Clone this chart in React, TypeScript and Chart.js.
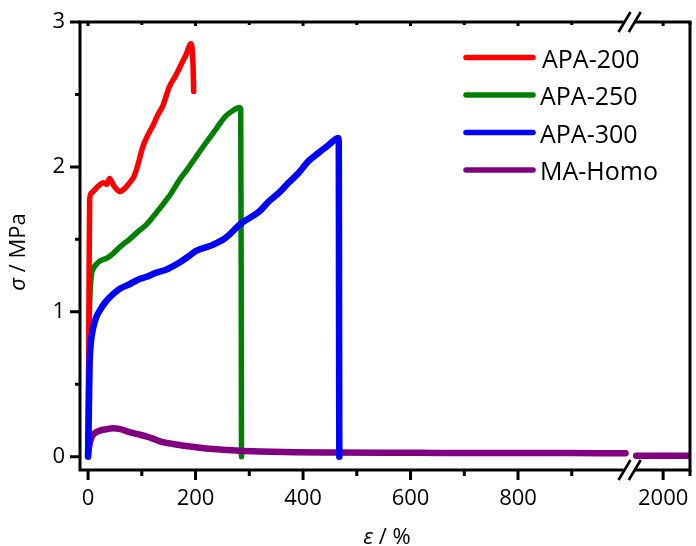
import React, { useEffect, useRef } from 'react';
import { Chart, registerables } from 'chart.js';

Chart.register(...registerables);

// ---- data (strain in %, stress in MPa) ----
const seriesLabels = ['APA-200', 'APA-250', 'APA-300', 'MA-Homo'];
const seriesColors = ['#ff0000', '#008000', '#0000ff', '#800080'];

const strainAPA200 = [0, 1, 2, 3, 6, 12, 20, 28, 35, 40, 48, 59, 68, 77, 85, 90, 96, 102, 110, 120, 130, 139, 151, 163, 175, 183, 188, 191, 194, 195.5, 196.5];
const stressAPA200 = [0, 0.6, 1.3, 1.78, 1.82, 1.84, 1.87, 1.89, 1.88, 1.92, 1.87, 1.83, 1.85, 1.89, 1.93, 1.98, 2.06, 2.14, 2.21, 2.28, 2.36, 2.42, 2.55, 2.63, 2.72, 2.78, 2.83, 2.85, 2.8, 2.68, 2.52];

const strainAPA250 = [0, 1, 2, 4, 6, 10, 16, 22, 35, 46, 60, 77, 92, 108, 124, 139, 155, 170, 186, 201, 220, 238, 256, 270, 281, 284, 285, 285.5];
const stressAPA250 = [0, 0.5, 0.9, 1.15, 1.25, 1.3, 1.33, 1.35, 1.37, 1.4, 1.45, 1.5, 1.55, 1.6, 1.67, 1.74, 1.82, 1.91, 1.99, 2.07, 2.17, 2.26, 2.35, 2.39, 2.41, 2.4, 1.2, 0];

const strainAPA300 = [0, 1, 2, 3, 5, 9, 15, 22, 33, 46, 60, 77, 92, 108, 127, 145, 170, 186, 201, 231, 256, 285, 318, 336, 355, 373, 392, 410, 430, 447, 460, 465, 466.5, 467, 467.5];
const stressAPA300 = [0, 0.2, 0.45, 0.65, 0.78, 0.88, 0.96, 1.01, 1.07, 1.12, 1.16, 1.19, 1.22, 1.24, 1.27, 1.29, 1.34, 1.38, 1.42, 1.46, 1.51, 1.61, 1.69, 1.76, 1.82, 1.89, 1.96, 2.04, 2.1, 2.15, 2.19, 2.2, 2.17, 1.0, 0];

const strainMAHomo = [0, 2, 6, 12, 22, 35, 46, 60, 77, 92, 108, 124, 139, 155, 170, 186, 201, 231, 260, 281, 320, 386, 450, 550, 650, 750, 850, 950, 1000, null, 1950, 2000, 2050];
const stressMAHomo = [0.01, 0.07, 0.13, 0.16, 0.18, 0.19, 0.196, 0.19, 0.17, 0.155, 0.14, 0.12, 0.1, 0.09, 0.08, 0.072, 0.065, 0.053, 0.046, 0.041, 0.036, 0.031, 0.029, 0.027, 0.026, 0.025, 0.025, 0.024, 0.024, null, 0.007, 0.007, 0.006];

// ---- axis ticks ----
const xMajorTicks = [0, 200, 400, 600, 800, 2000];
const xMinorTicks = [100, 300, 500, 700, 900, 2050];
const yMajorTicks = [0, 1, 2, 3];
const yMinorTicks = [0.5, 1.5, 2.5];

// broken x axis: 1000 .. 1950 is cut out
const BREAK_START = 1000;
const BREAK_END = 1950;
const BREAK_GAP = 20;
const X_MIN = -15;
const X_MAX = 2050;
const Y_MIN = -0.092;
const Y_MAX = 3;

const toAxis = (v: number) => (v <= BREAK_START ? v : v - BREAK_END + BREAK_START + BREAK_GAP);
const fromAxis = (v: number) => (v <= BREAK_START ? v : v + BREAK_END - BREAK_START - BREAK_GAP);

const FONT = '"Open Sans", "Noto Sans", sans-serif';

function makePoints(xs: (number | null)[], ys: (number | null)[]) {
  return xs.map((x, i) => ({
    x: x === null ? NaN : toAxis(x),
    y: ys[i] === null ? NaN : (ys[i] as number),
  }));
}

const framePlugin = {
  id: 'framePlugin',
  afterDraw(chart: any) {
    const { ctx, chartArea } = chart;
    const { left, right, top, bottom } = chartArea;
    const xs = chart.scales.x;
    const ys = chart.scales.y;
    ctx.save();
    ctx.strokeStyle = '#000';
    ctx.fillStyle = '#000';
    ctx.lineWidth = 3;
    ctx.lineCap = 'butt';

    const b1 = xs.getPixelForValue(BREAK_START);
    const b2 = xs.getPixelForValue(BREAK_START + BREAK_GAP);

    // frame
    ctx.beginPath();
    ctx.moveTo(left, top - 1.5);
    ctx.lineTo(left, bottom + 1.5);
    ctx.moveTo(right, top - 1.5);
    ctx.lineTo(right, bottom + 1.5);
    for (const yy of [top, bottom]) {
      ctx.moveTo(left - 1.5, yy);
      ctx.lineTo(b1 - 2, yy);
      ctx.moveTo(b2 - 1, yy);
      ctx.lineTo(right + 1.5, yy);
    }
    ctx.stroke();

    // break marks
    ctx.lineWidth = 2.6;
    ctx.beginPath();
    for (const yy of [top, bottom]) {
      for (const cx of [b1 - 1, b2 - 1.5]) {
        ctx.moveTo(cx - 6, yy + 10);
        ctx.lineTo(cx + 6, yy - 10);
      }
    }
    ctx.stroke();

    // ticks
    ctx.lineWidth = 3;
    ctx.beginPath();
    for (const v of xMajorTicks) {
      const px = xs.getPixelForValue(toAxis(v));
      ctx.moveTo(px, bottom);
      ctx.lineTo(px, bottom + 10);
      ctx.moveTo(px, top);
      ctx.lineTo(px, top + 4);
    }
    for (const v of xMinorTicks) {
      const px = xs.getPixelForValue(toAxis(v));
      ctx.moveTo(px, bottom);
      ctx.lineTo(px, bottom + 6);
      ctx.moveTo(px, top);
      ctx.lineTo(px, top + 3);
    }
    for (const v of yMajorTicks) {
      const py = ys.getPixelForValue(v);
      ctx.moveTo(left, py);
      ctx.lineTo(left - 10, py);
    }
    for (const v of yMinorTicks) {
      const py = ys.getPixelForValue(v);
      ctx.moveTo(left, py);
      ctx.lineTo(left - 5, py);
    }
    ctx.stroke();

    // axis titles (mixed italic symbol + upright unit)
    const drawTitle = (parts: { t: string; italic: boolean }[], cx: number, baseY: number, rotate: boolean) => {
      ctx.save();
      ctx.translate(cx, baseY);
      if (rotate) ctx.rotate(-Math.PI / 2);
      let total = 0;
      const widths = parts.map((p) => {
        ctx.font = `${p.italic ? 'italic ' : ''}22px ${FONT}`;
        const w = ctx.measureText(p.t).width;
        total += w;
        return w;
      });
      let xx = -total / 2;
      ctx.textBaseline = 'alphabetic';
      ctx.textAlign = 'left';
      parts.forEach((p, i) => {
        ctx.font = `${p.italic ? 'italic ' : ''}22px ${FONT}`;
        ctx.fillText(p.t, xx, 0);
        xx += widths[i];
      });
      ctx.restore();
    };
    drawTitle([{ t: 'ε', italic: true }, { t: ' / %', italic: false }], (left + right) / 2 + 2, 544, false);
    drawTitle([{ t: 'σ', italic: true }, { t: ' / MPa', italic: false }], 25, (top + bottom) / 2 + 6, true);

    // legend
    const datasets = chart.data.datasets;
    ctx.font = `25px ${FONT}`;
    ctx.textAlign = 'left';
    ctx.textBaseline = 'alphabetic';
    datasets.forEach((ds: any, i: number) => {
      const rowY = 57.5 + i * 37.5;
      ctx.strokeStyle = ds.borderColor;
      ctx.lineWidth = 5.5;
      ctx.lineCap = 'round';
      ctx.beginPath();
      ctx.moveTo(466, rowY);
      ctx.lineTo(533, rowY);
      ctx.stroke();
      ctx.fillStyle = '#000';
      ctx.fillText(ds.label, i === 0 ? 542 : 540, rowY + 10);
    });
    ctx.restore();
  },
};

export default function App() {
  const canvasRef = useRef<HTMLCanvasElement | null>(null);

  useEffect(() => {
    if (!canvasRef.current) return;
    const strains = [strainAPA200, strainAPA250, strainAPA300, strainMAHomo];
    const stresses = [stressAPA200, stressAPA250, stressAPA300, stressMAHomo];
    const widths = [5.5, 5.5, 6.5, 6.5];
    const orders = [2, 3, 0, 1];
    const chart = new Chart(canvasRef.current, {
      type: 'line',
      data: {
        datasets: seriesLabels.map((label, i) => ({
          label,
          data: makePoints(strains[i] as any, stresses[i] as any),
          borderColor: seriesColors[i],
          backgroundColor: seriesColors[i],
          borderWidth: widths[i],
          pointRadius: 0,
          cubicInterpolationMode: 'monotone',
          fill: false,
          spanGaps: false,
          borderCapStyle: 'round',
          borderJoinStyle: 'round',
          order: orders[i],
        })),
      },
      options: {
        animation: false,
        responsive: false,
        devicePixelRatio: 1,
        parsing: false,
        normalized: true,
        layout: { padding: { top: 22, right: 3, left: 0, bottom: 0 } },
        plugins: {
          legend: { display: false },
          tooltip: { enabled: false },
          title: { display: false },
        },
        scales: {
          x: {
            type: 'linear',
            min: X_MIN,
            max: toAxis(X_MAX),
            grid: { display: false, drawTicks: true, tickLength: 10 },
            border: { display: false },
            afterBuildTicks: (scale: any) => {
              scale.ticks = [...xMajorTicks, ...xMinorTicks]
                .map(toAxis)
                .sort((a, b) => a - b)
                .map((v) => ({ value: v }));
            },
            afterFit: (scale: any) => {
              scale.height = 76;
            },
            ticks: {
              autoSkip: false,
              maxRotation: 0,
              minRotation: 0,
              padding: 6,
              color: '#000',
              font: { family: FONT, size: 22 },
              callback: (value: any) => {
                const real = Math.round(fromAxis(Number(value)));
                return xMajorTicks.includes(real) ? String(real) : '';
              },
            },
          },
          y: {
            type: 'linear',
            min: Y_MIN,
            max: Y_MAX,
            grid: { display: false, drawTicks: true, tickLength: 10 },
            border: { display: false },
            afterBuildTicks: (scale: any) => {
              scale.ticks = [...yMajorTicks, ...yMinorTicks]
                .sort((a, b) => a - b)
                .map((v) => ({ value: v }));
            },
            afterFit: (scale: any) => {
              scale.width = 80;
            },
            ticks: {
              autoSkip: false,
              padding: 5,
              color: '#000',
              font: { family: FONT, size: 22 },
              callback: (value: any) => {
                const v = Number(value);
                return yMajorTicks.includes(v) ? String(v) : '';
              },
            },
          },
        },
      },
      plugins: [framePlugin],
    } as any);
    return () => chart.destroy();
  }, []);

  return (
    <div style={{ position: 'fixed', left: 0, top: 0, width: 696, height: 546, background: '#fff' }}>
      <canvas ref={canvasRef} width={696} height={546} style={{ display: 'block', width: 696, height: 546 }} />
    </div>
  );
}
